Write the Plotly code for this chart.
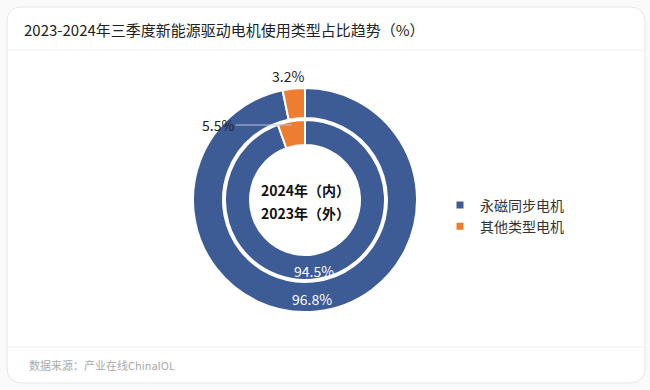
import math
import plotly.graph_objects as go

W, H = 650, 390
categories = ["永磁同步电机", "其他类型电机"]
outer_2023 = [96.8, 3.2]
inner_2024 = [94.5, 5.5]
colors = ["#3D5B94", "#ED7D31"]
title = "2023-2024年三季度新能源驱动电机使用类型占比趋势（%）"
center_lines = ["2024年（内）", "2023年（外）"]
source = "数据来源：产业在线ChinaIOL"
FONT = "Noto Sans CJK SC"

def px(x):
    return x / W

def py(y):
    return 1 - y / H

cx, cy = 305, 200
r_out, r_mid_o, r_mid_i, r_in = 112, 82, 80, 55

fig = go.Figure()
fig.add_trace(go.Pie(
    labels=categories, values=outer_2023, sort=False, direction="clockwise", rotation=0,
    hole=r_mid_o / r_out,
    domain=dict(x=[px(cx - r_out), px(cx + r_out)], y=[py(cy + r_out), py(cy - r_out)]),
    marker=dict(colors=colors, line=dict(color="white", width=2)),
    textinfo="none", hoverinfo="label+value", showlegend=False,
))
fig.add_trace(go.Pie(
    labels=categories, values=inner_2024, sort=False, direction="clockwise", rotation=0,
    hole=r_in / r_mid_i,
    domain=dict(x=[px(cx - r_mid_i), px(cx + r_mid_i)], y=[py(cy + r_mid_i), py(cy - r_mid_i)]),
    marker=dict(colors=colors, line=dict(color="white", width=2)),
    textinfo="none", hoverinfo="label+value", showlegend=False,
))
# legend entries (small square swatches)
for name, col in zip(categories, colors):
    fig.add_trace(go.Scatter(x=[None], y=[None], mode="markers", name=name,
                             marker=dict(symbol="square", size=7, color=col), showlegend=True))

def mid_angle(values, i):
    start = sum(values[:i])
    return math.radians((start + values[i] / 2) / sum(values) * 360)

def label_pos(values, i, r):
    a = mid_angle(values, i)
    return cx + r * math.sin(a), cy - r * math.cos(a)

x0, x1, y0, y1 = 7, 645, 7, 383

def rr(x0, y0, x1, y1, r):
    def P(x, y):
        return f"{px(x):.5f},{py(y):.5f}"
    return (f"M{P(x0+r,y0)} L{P(x1-r,y0)} Q{P(x1,y0)} {P(x1,y0+r)} L{P(x1,y1-r)} Q{P(x1,y1)} {P(x1-r,y1)} "
            f"L{P(x0+r,y1)} Q{P(x0,y1)} {P(x0,y1-r)} L{P(x0,y0+r)} Q{P(x0,y0)} {P(x0+r,y0)} Z")

shapes = [
    dict(type="path", xref="paper", yref="paper", path=rr(x0, y0, x1, y1, 15),
         line=dict(color="#E6E6E6", width=1), fillcolor="white", layer="below"),
    dict(type="line", xref="paper", yref="paper", x0=px(x0), x1=px(x1), y0=py(50), y1=py(50),
         line=dict(color="#EEEEEE", width=1), layer="below"),
    dict(type="line", xref="paper", yref="paper", x0=px(x0), x1=px(x1), y0=py(347), y1=py(347),
         line=dict(color="#EEEEEE", width=1), layer="below"),
]

def ann(text, x, y, size, color, **kw):
    d = dict(text=text, x=px(x), y=py(y), xref="paper", yref="paper",
             xanchor=kw.pop("xanchor", "center"), yanchor="middle", showarrow=False,
             font=dict(size=size, color=color, family=FONT))
    d.update(kw)
    return d

annotations = [
    ann(title, 22, 30, 15, "#222222", xanchor="left"),
    ann(source, 27, 365, 11, "#AAAAAA", xanchor="left"),
]
for k, line in enumerate(center_lines):
    annotations.append(ann(f"<b>{line}</b>", cx, 190 + 23 * k, 14, "#111111"))

# value labels
lx, ly = label_pos(inner_2024, 0, 72)
annotations.append(ann(f"{inner_2024[0]}%", lx - 3, ly, 14, "white"))
lx, ly = label_pos(outer_2023, 0, 99)
annotations.append(ann(f"{outer_2023[0]}%", lx - 3, ly, 14, "white"))
lx, ly = label_pos(outer_2023, 1, 125)
annotations.append(ann(f"{outer_2023[1]}%", lx - 4, ly, 14, "#222222"))
lx, ly = label_pos(inner_2024, 1, 77)
annotations.append(ann(f"{inner_2024[1]}%", lx, 125, 14, "#222222",
                       ax=-(lx - 218), ay=0, showarrow=True, arrowhead=0, arrowwidth=1,
                       arrowcolor="#B8C2D6"))

fig.update_layout(
    width=W, height=H, margin=dict(l=0, r=0, t=0, b=0),
    paper_bgcolor="#FAFAFA", plot_bgcolor="rgba(0,0,0,0)",
    shapes=shapes, annotations=annotations,
    xaxis=dict(visible=False, range=[0, 1]), yaxis=dict(visible=False, range=[0, 1]),
    legend=dict(x=px(440), y=py(216), xanchor="left", yanchor="middle",
                font=dict(size=14, color="#333333", family=FONT), itemwidth=30,
                tracegroupgap=0, bgcolor="rgba(0,0,0,0)"),
    font=dict(family=FONT),
)
fig.write_html("out.html", config={"displayModeBar": False},
               post_script="document.body.style.margin='0';")
